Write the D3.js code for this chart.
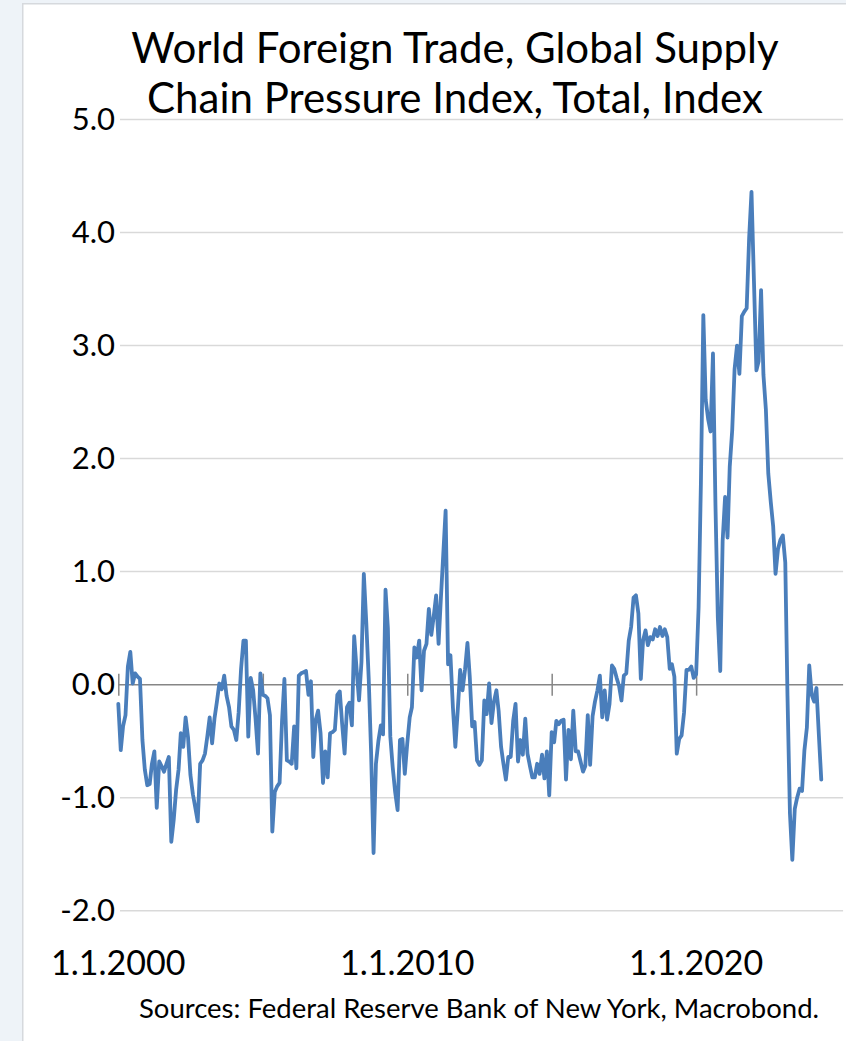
<!DOCTYPE html>
<html>
<head>
<meta charset="utf-8">
<script src="https://cdn.jsdelivr.net/npm/d3@7"></script>
<style>
  html, body { margin: 0; padding: 0; background: #eef3f8; }
  svg { display: block; }
</style>
</head>
<body>
<svg id="chart" width="846" height="1041"></svg>
<script>
// ---- data -------------------------------------------------------------
const titleLines = [
  "World Foreign Trade, Global Supply",
  "Chain Pressure Index, Total, Index"
];
const sourceNote = "Sources: Federal Reserve Bank of New York, Macrobond.";

// Monthly series, first observation January 2000
const firstMonth = "2000-01";
const gscpi = [
  -0.17, -0.58, -0.37, -0.27,  0.16,  0.29,  0.01,  0.10,  0.07,  0.05, -0.49, -0.75, // 2000
  -0.89, -0.88, -0.70, -0.59, -1.09, -0.68, -0.72, -0.77, -0.70, -0.64, -1.39, -1.20, // 2001
  -0.93, -0.75, -0.43, -0.55, -0.29, -0.47, -0.80, -0.97, -1.09, -1.21, -0.70, -0.67, // 2002
  -0.61, -0.45, -0.29, -0.52, -0.30, -0.15,  0.01, -0.04,  0.08, -0.10, -0.20, -0.37, // 2003
  -0.40, -0.49, -0.25,  0.14,  0.39,  0.39, -0.46,  0.06, -0.05, -0.30, -0.61,  0.10, // 2004
  -0.09, -0.10, -0.12, -0.27, -1.30, -0.95, -0.90, -0.87, -0.32,  0.05, -0.67, -0.68, // 2005
  -0.70, -0.37, -0.74,  0.08,  0.10,  0.11,  0.12, -0.09,  0.03, -0.64, -0.31, -0.23, // 2006
  -0.43, -0.87, -0.59, -0.82, -0.43, -0.42, -0.40, -0.09, -0.06, -0.35, -0.61, -0.20, // 2007
  -0.16, -0.36,  0.43,  0.13, -0.14,  0.20,  0.98,  0.55,  0.05, -0.60, -1.49, -0.70, // 2008
  -0.50, -0.36, -0.44,  0.84,  0.50, -0.46, -0.73, -0.95, -1.11, -0.49, -0.48, -0.79, // 2009
  -0.52, -0.29, -0.20,  0.33,  0.24,  0.39, -0.05,  0.30,  0.36,  0.67,  0.44,  0.60, // 2010
   0.79,  0.36,  0.75,  1.15,  1.54,  0.18,  0.26, -0.20, -0.55, -0.23,  0.13, -0.05, // 2011
   0.13,  0.37,  0.07, -0.37, -0.33, -0.67, -0.71, -0.67, -0.14, -0.26,  0.01, -0.34, // 2012
  -0.15, -0.05, -0.23, -0.55, -0.70, -0.84, -0.64, -0.64, -0.32, -0.17, -0.68, -0.49, // 2013
  -0.62, -0.30, -0.61, -0.72, -0.82, -0.82, -0.70, -0.79, -0.62, -0.83, -0.59, -0.98, // 2014
  -0.42, -0.51, -0.32, -0.35, -0.32, -0.31, -0.84, -0.40, -0.66, -0.23, -0.59, -0.59, // 2015
  -0.68, -0.77, -0.72, -0.27, -0.71, -0.28, -0.15, -0.05,  0.08, -0.29, -0.05, -0.31, // 2016
  -0.17,  0.17,  0.14,  0.06, -0.01, -0.14,  0.08,  0.10,  0.39,  0.51,  0.77,  0.79, // 2017
   0.63,  0.05,  0.39,  0.48,  0.35,  0.42,  0.40,  0.49,  0.43,  0.51,  0.43,  0.49, // 2018
   0.42,  0.14,  0.18,  0.07, -0.61, -0.48, -0.45, -0.25,  0.13,  0.13,  0.16,  0.06, // 2019
   0.09,  0.68,  1.77,  3.27,  2.52,  2.35,  2.24,  2.93,  1.60,  0.60,  0.12,  1.27, // 2020
   1.66,  1.30,  1.93,  2.25,  2.79,  3.00,  2.75,  3.26,  3.30,  3.33,  3.95,  4.36, // 2021
   3.57,  2.78,  2.86,  3.49,  2.74,  2.43,  1.87,  1.62,  1.40,  0.98,  1.20,  1.28, // 2022
   1.32,  1.08, -0.10, -1.14, -1.55, -1.10, -1.00, -0.92, -0.94, -0.58, -0.38,  0.17, // 2023
  -0.09, -0.15, -0.03, -0.45, -0.84                                                   // 2024
];

const yTicks = [-2, -1, 0, 1, 2, 3, 4, 5];
const xLabelYears = [2000, 2010, 2020];
const xMarkYears = [2000, 2005, 2010, 2015, 2020];

// ---- setup ------------------------------------------------------------
const W = 846, H = 1041;
const FONT = "Lato, 'Open Sans', sans-serif";
const svg = d3.select("#chart");

const parseMonth = d3.utcParse("%Y-%m");
const start = parseMonth(firstMonth);
const series = gscpi.map((v, i) => ({ date: d3.utcMonth.offset(start, i), value: v }));

const x = d3.scaleUtc()
  .domain([Date.UTC(2000, 0, 1), Date.UTC(2025, 1, 1)])
  .range([118.3, 843.1]);
const y = d3.scaleLinear().domain([-2, 5]).range([910.7, 119.5]);

// page background and white panel
svg.append("rect").attr("width", W).attr("height", H).attr("fill", "#eef3f8");
svg.append("rect")
  .attr("x", 22.75).attr("y", 3.75)
  .attr("width", W).attr("height", H)
  .attr("fill", "#ffffff")
  .attr("stroke", "#d6d9dd").attr("stroke-width", 1.5);

// horizontal grid
svg.append("g")
  .selectAll("line")
  .data(yTicks.filter(d => d !== 0))
  .join("line")
  .attr("x1", 120).attr("x2", x.range()[1])
  .attr("y1", d => y(d)).attr("y2", d => y(d))
  .attr("stroke", "#d9d9d9").attr("stroke-width", 1.5);

// y axis labels
const yAxis = svg.append("g")
  .attr("transform", "translate(115,0)")
  .call(d3.axisLeft(y).tickValues(yTicks).tickFormat(d => d.toFixed(1)).tickSize(0).tickPadding(0));
yAxis.select(".domain").remove();
yAxis.selectAll("text")
  .attr("font-family", FONT).attr("font-size", 31).attr("fill", "#000");

// zero line with crossing year ticks
const zeroY = y(0);
const xMarks = svg.append("g")
  .attr("transform", `translate(0,${zeroY - 11})`)
  .call(d3.axisBottom(x)
    .tickValues(xMarkYears.map(yr => new Date(Date.UTC(yr, 0, 1))))
    .tickSize(22).tickFormat(""));
xMarks.select(".domain").remove();
xMarks.selectAll("line").attr("stroke", "#868686").attr("stroke-width", 1.5);

svg.append("line")
  .attr("x1", x.range()[0]).attr("x2", x.range()[1])
  .attr("y1", zeroY).attr("y2", zeroY)
  .attr("stroke", "#868686").attr("stroke-width", 1.5);

// x labels
svg.append("g")
  .selectAll("text")
  .data(xLabelYears)
  .join("text")
  .attr("x", d => x(Date.UTC(d, 0, 1)))
  .attr("y", 975)
  .attr("text-anchor", "middle")
  .attr("font-family", FONT).attr("font-size", 34).attr("fill", "#000")
  .text(d => `1.1.${d}`);

// series line
const line = d3.line().x(d => x(d.date)).y(d => y(d.value));
svg.append("path")
  .datum(series)
  .attr("d", line)
  .attr("fill", "none")
  .attr("stroke", "#4a7ebb")
  .attr("stroke-width", 3.8)
  .attr("stroke-linejoin", "round")
  .attr("stroke-linecap", "round");

// title
svg.append("g")
  .selectAll("text")
  .data(titleLines)
  .join("text")
  .attr("x", 455)
  .attr("y", (d, i) => 63 + i * 50)
  .attr("text-anchor", "middle")
  .attr("font-family", FONT).attr("font-size", 42).attr("fill", "#000")
  .text(d => d);

// source note
svg.append("text")
  .attr("x", 479).attr("y", 1018)
  .attr("text-anchor", "middle")
  .attr("font-family", FONT).attr("font-size", 27.5).attr("fill", "#000")
  .text(sourceNote);
</script>
</body>
</html>
